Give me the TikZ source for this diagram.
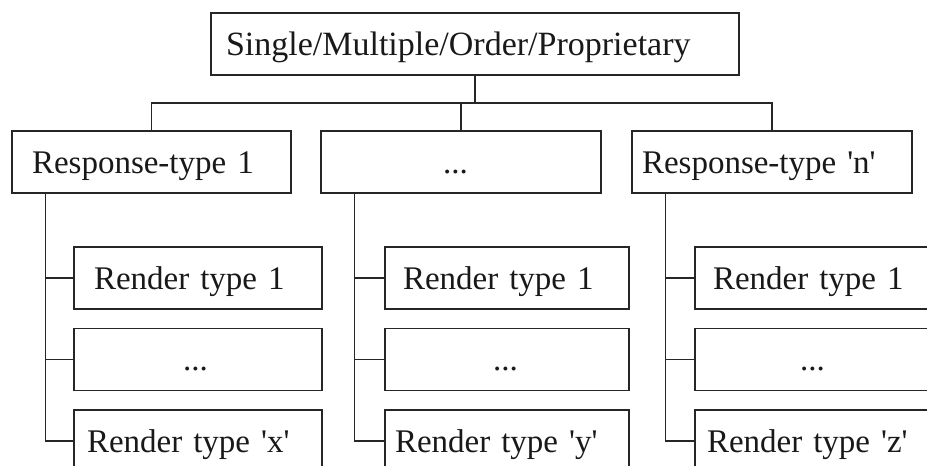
\documentclass[tikz,border=0pt]{standalone}
\usepackage{fontspec}
\setmainfont{Liberation Serif}[WordSpace=0.6]
\begin{document}
\begin{tikzpicture}[x=1pt, y=-1pt,
  box/.style={draw=black!85, line width=1.5pt, rectangle, minimum height=62pt, inner ysep=0pt,
    text height=27pt, text depth=5pt, align=left,
    font=\fontsize{33}{38}\selectfont, text=black!90},
  topbox/.style={box, font=\fontsize{34}{40}\selectfont},
  link/.style={line width=1.5pt, draw=black!85}]
\fill[white] (0,0) rectangle (927,466);
\useasboundingbox (0,0) rectangle (927,466);

% root
\node[topbox, text width=498pt, inner xsep=15pt] (top) at (475,44) {Single/Multiple/Order/Proprietary};

% response types
\node[box, text width=239pt, inner xsep=20pt] (resp1) at (151.5,162) {Response-type 1};
\node[box, text width=36pt, inner xsep=122pt] (resp2) at (461,162) {...};
\node[box, text width=260pt, inner xsep=10pt] (resp3) at (772,162) {Response-type \textquotesingle n\textquotesingle};

% render types, first column
\node[box, text width=208pt, inner xsep=20pt] (r11) at (198,278) {Render type 1};
\node[box, text width=30pt, inner xsep=109pt] (r12) at (198,359.5) {...};
\node[box, text width=222pt, inner xsep=13pt] (r13) at (198,441) {Render type \textquotesingle x\textquotesingle};

% render types, second column
\node[box, text width=208pt, inner xsep=18pt] (r21) at (507,278) {Render type 1};
\node[box, text width=28pt, inner xsep=108pt] (r22) at (507,359.5) {...};
\node[box, text width=224pt, inner xsep=10pt] (r23) at (507,441) {Render type \textquotesingle y\textquotesingle};

% render types, third column
\node[box, text width=212pt, inner xsep=18pt] (r31) at (819,278) {Render type 1};
\node[box, text width=38pt, inner xsep=105pt] (r32) at (819,359.5) {...};
\node[box, text width=224pt, inner xsep=12pt] (r33) at (819,441) {Render type \textquotesingle z\textquotesingle};

% root to response types
\coordinate (bus) at (475,103);
\draw[link] (top.south) -- (bus);
\draw[link] (resp1.north) |- (bus) -| (resp3.north);
\draw[link] (resp2.north) -- (resp2.north |- bus);

% response types to render types
\foreach \c in {1,2,3}{
  \coordinate (s\c) at ([xshift=34pt]resp\c.south west);
  \draw[link] (s\c) |- (r\c3.west);
  \draw[link] (r\c1.west) -- (r\c1.west -| s\c);
  \draw[link] (r\c2.west) -- (r\c2.west -| s\c);
}
\end{tikzpicture}
\end{document}
